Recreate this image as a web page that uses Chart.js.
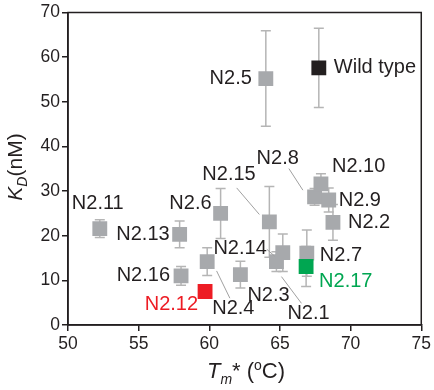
<!DOCTYPE html>
<html>
<head>
<meta charset="utf-8">
<script src="https://cdn.jsdelivr.net/npm/chart.js@4"></script>
<style>
  html, body { margin: 0; padding: 0; background: #fff; }
  #wrap { width: 434px; height: 390px; }
</style>
</head>
<body>
<div id="wrap"><canvas id="kd-chart" width="434" height="390"></canvas></div>
<script>
// 데이터 ####################################################
const names = ["Wild type", "N2.1", "N2.2", "N2.3", "N2.4", "N2.5", "N2.6", "N2.7", "N2.8",
  "N2.9", "N2.10", "N2.11", "N2.12", "N2.13", "N2.14", "N2.15", "N2.16", "N2.17"];
const tm = [67.75, 64.75, 68.75, 62.2, 59.85, 64.0, 60.8, 66.9, 67.45,
  68.45, 67.9, 52.25, 59.7, 57.9, 65.2, 64.25, 58.0, 66.85];
const kd = [57.6, 14.2, 23.0, 11.3, 14.2, 55.2, 25.0, 16.1, 28.7,
  28.0, 31.6, 21.6, 7.5, 20.3, 16.2, 23.1, 11.0, 13.1];
const kdErr = [8.9, 2.2, 4.0, 3.0, 3.1, 10.7, 5.6, 5.2, 1.9,
  2.7, 2.3, 2.0, 0, 3.0, 4.2, 7.9, 2.1, 4.5];
const xTicks = [50, 55, 60, 65, 70, 75];
const yTicks = [0, 10, 20, 30, 40, 50, 60, 70];

const FONT = '"Liberation Sans", Arial, Helvetica, sans-serif';
const GREY = "#a7a9ac";
const specialColor = { "Wild type": "#231f20", "N2.12": "#ed1c24", "N2.17": "#00a651" };
const colorOf = (n) => specialColor[n] || GREY;
const labelColorOf = (n) => (n === "N2.12" || n === "N2.17" ? specialColor[n] : "#231f20");

// 라벨 위치 (점 기준 픽셀 오프셋), 지시선
const labelPos = {
  "Wild type": { dx: 15, dy: 0, align: "left" },
  "N2.5": { dx: -14, dy: 0, align: "right" },
  "N2.11": { dx: -2, dy: -25, align: "center" },
  "N2.13": { dx: -10, dy: 0, align: "right" },
  "N2.16": { dx: -11, dy: 0, align: "right" },
  "N2.6": { dx: -9, dy: -10, align: "right" },
  "N2.12": { dx: -7, dy: 13, align: "right" },
  "N2.4": { dx: 5, dy: 47, align: "left", line: [22.7, 36.6, 9.4, 9.3] },
  "N2.14": { dx: -16, dy: -4, align: "right", line: [-16, -3.4, -8.3, 3.3] },
  "N2.3": { dx: 7, dy: 21, align: "left" },
  "N2.1": { dx: 11, dy: 52, align: "left", line: [25, 41.7, 5, 15] },
  "N2.15": { dx: -67, dy: -47, align: "left", line: [-32.7, -34, -10, -7.4] },
  "N2.8": { dx: -58, dy: -38, align: "left", line: [-25.7, -28.3, -11.7, -6.7] },
  "N2.10": { dx: 11, dy: -17, align: "left" },
  "N2.9": { dx: 10, dy: 0, align: "left" },
  "N2.2": { dx: 15, dy: 0, align: "left" },
  "N2.7": { dx: 13, dy: 2, align: "left" },
  "N2.17": { dx: 13, dy: 15, align: "left" },
};

// 오차 막대
const errorBarPlugin = {
  id: "errorBars",
  beforeDatasetsDraw(chart) {
    const ctx = chart.ctx;
    const xs = chart.scales.x, ys = chart.scales.y;
    ctx.save();
    ctx.strokeStyle = "#b5b5b5";
    ctx.lineWidth = 1.5;
    tm.forEach((t, i) => {
      if (!kdErr[i]) return;
      const x = xs.getPixelForValue(t);
      const y1 = ys.getPixelForValue(kd[i] + kdErr[i]);
      const y2 = ys.getPixelForValue(kd[i] - kdErr[i]);
      ctx.beginPath();
      ctx.moveTo(x, y1); ctx.lineTo(x, y2);
      ctx.moveTo(x - 5, y1); ctx.lineTo(x + 5, y1);
      ctx.moveTo(x - 5, y2); ctx.lineTo(x + 5, y2);
      ctx.stroke();
    });
    ctx.restore();
  },
};

// 점 라벨 + 지시선
const labelPlugin = {
  id: "pointLabels",
  afterDatasetsDraw(chart) {
    const ctx = chart.ctx;
    const xs = chart.scales.x, ys = chart.scales.y;
    ctx.save();
    names.forEach((n, i) => {
      const p = labelPos[n];
      const x = xs.getPixelForValue(tm[i]);
      const y = ys.getPixelForValue(kd[i]);
      if (p.line) {
        ctx.strokeStyle = "#a0a0a0";
        ctx.lineWidth = 1;
        ctx.beginPath();
        ctx.moveTo(x + p.line[0], y + p.line[1]);
        ctx.lineTo(x + p.line[2], y + p.line[3]);
        ctx.stroke();
      }
      ctx.font = `20px ${FONT}`;
      ctx.fillStyle = labelColorOf(n);
      ctx.textAlign = p.align;
      ctx.textBaseline = "middle";
      ctx.fillText(n, x + p.dx, y + p.dy);
    });
    ctx.restore();
  },
};

// 테두리 + 축 제목
const framePlugin = {
  id: "frame",
  afterDraw(chart) {
    const ctx = chart.ctx;
    const a = chart.chartArea;
    ctx.save();
    ctx.strokeStyle = "#231f20";
    ctx.lineWidth = 1.5;
    ctx.strokeRect(a.left, a.top, a.right - a.left, a.bottom - a.top);

    ctx.fillStyle = "#231f20";
    ctx.textBaseline = "alphabetic";
    ctx.textAlign = "left";
    // x 축 제목: Tm* (oC)
    const parts = [
      { t: "T", f: `italic 22px ${FONT}`, dy: 0 },
      { t: "m", f: `italic 14px ${FONT}`, dy: 6 },
      { t: "* (", f: `22px ${FONT}`, dy: 0 },
      { t: "o", f: `14px ${FONT}`, dy: -8 },
      { t: "C)", f: `22px ${FONT}`, dy: 0 },
    ];
    let w = 0;
    parts.forEach((p) => { ctx.font = p.f; w += ctx.measureText(p.t).width; });
    let cx = 246 - w / 2;
    parts.forEach((p) => {
      ctx.font = p.f;
      ctx.fillText(p.t, cx, 378 + p.dy);
      cx += ctx.measureText(p.t).width;
    });

    // y 축 제목: KD(nM)
    ctx.translate(22, 167);
    ctx.rotate(-Math.PI / 2);
    const yparts = [
      { t: "K", f: `italic 21px ${FONT}`, dy: 0 },
      { t: "D", f: `italic 14px ${FONT}`, dy: 5 },
      { t: "(nM)", f: `21px ${FONT}`, dy: 0 },
    ];
    w = 0;
    yparts.forEach((p) => { ctx.font = p.f; w += ctx.measureText(p.t).width; });
    cx = -w / 2;
    yparts.forEach((p) => {
      ctx.font = p.f;
      ctx.fillText(p.t, cx, p.dy);
      cx += ctx.measureText(p.t).width;
    });
    ctx.restore();
  },
};

function drawChart() {
  const data = {
    datasets: [
      {
        data: tm.map((t, i) => ({ x: t, y: kd[i] })),
        pointStyle: "rect",
        radius: 10.5,
        hoverRadius: 10.5,
        pointBackgroundColor: names.map(colorOf),
        pointBorderWidth: 0,
        borderWidth: 0,
      },
    ],
  };

  const axisCommon = {
    grid: { display: true, drawOnChartArea: false, drawTicks: true, tickLength: 6, color: "#231f20", lineWidth: 1.5 },
    border: { display: true, color: "#231f20", width: 1.5 },
  };

  const options = {
    responsive: false,
    animation: false,
    layout: { padding: { left: 0, top: 9, right: 12, bottom: 0 } },
    scales: {
      x: {
        type: "linear",
        min: 50,
        max: 75,
        afterBuildTicks(scale) { scale.ticks = xTicks.map((v) => ({ value: v })); },
        afterFit(scale) { scale.height = 65; },
        ticks: { font: { size: 17.5, family: FONT }, color: "#231f20", padding: 3 },
        ...axisCommon,
      },
      y: {
        type: "linear",
        min: 0,
        max: 70,
        afterBuildTicks(scale) { scale.ticks = yTicks.map((v) => ({ value: v })); },
        afterFit(scale) { scale.width = 68; },
        ticks: { font: { size: 17.5, family: FONT }, color: "#231f20", padding: 2 },
        ...axisCommon,
      },
    },
    plugins: {
      legend: { display: false },
      tooltip: { enabled: false },
    },
  };

  new Chart(document.getElementById("kd-chart"), {
    type: "scatter",
    data: data,
    options: options,
    plugins: [errorBarPlugin, labelPlugin, framePlugin],
  });
}
drawChart();
</script>
</body>
</html>
